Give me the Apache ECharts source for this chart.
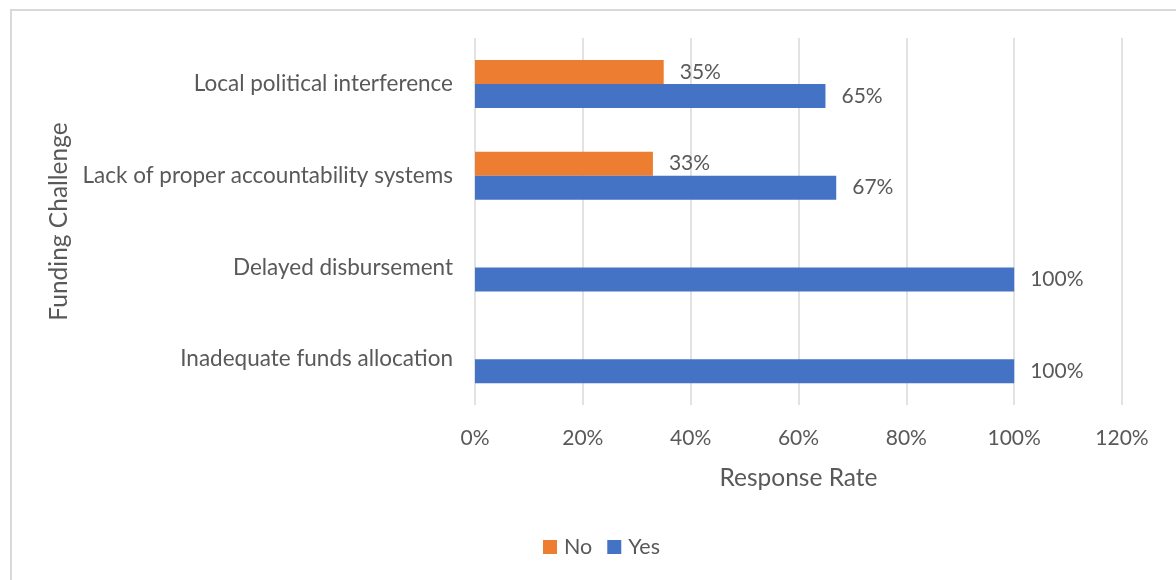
<!DOCTYPE html>
<html>
<head>
<meta charset="utf-8">
<script src="https://cdn.jsdelivr.net/npm/echarts@6/dist/echarts.min.js"></script>
<style>
  html, body { margin: 0; padding: 0; background: #ffffff; }
  #chart { width: 1176px; height: 580px; }
</style>
</head>
<body>
<div id="chart"></div>
<script>
// Funding challenges, listed bottom to top on the category axis
const categories = [
  'Inadequate funds allocation',
  'Delayed disbursement',
  'Lack of proper accountability systems',
  'Local political interference'
];
// Share of respondents answering "Yes" / "No" (fractions)
const yesValues = [1.00, 1.00, 0.67, 0.65];
const noValues = [null, null, 0.33, 0.35];
const xTicks = [0, 0.2, 0.4, 0.6, 0.8, 1.0, 1.2];

const FONT = 'Lato, "Open Sans", sans-serif';
const TEXT = '#595959';
const pct = v => Math.round(v * 100) + '%';

const chart = echarts.init(document.getElementById('chart'), null, { renderer: 'canvas' });

chart.setOption({
  backgroundColor: '#ffffff',
  animation: false,
  textStyle: { fontFamily: FONT, color: TEXT },
  graphic: [{
    type: 'rect',
    shape: { x: 11, y: 10, width: 1300, height: 700 },
    style: { fill: 'none', stroke: '#d9d9d9', lineWidth: 2 },
    silent: true,
    z: -10
  }],
  grid: { left: 475, right: 54, top: 38, bottom: 175, containLabel: false },
  legend: {
    data: ['No', 'Yes'],
    bottom: 17,
    left: 538,
    itemWidth: 14,
    itemHeight: 14,
    itemGap: 15,
    icon: 'rect',
    textStyle: { fontFamily: FONT, fontSize: 21.5, color: TEXT, padding: [0, 0, 0, 2] }
  },
  xAxis: {
    type: 'value',
    min: xTicks[0],
    max: xTicks[xTicks.length - 1],
    interval: 0.2,
    name: 'Response Rate',
    nameLocation: 'middle',
    nameGap: 61,
    nameTextStyle: { fontFamily: FONT, fontSize: 24.5, color: TEXT },
    axisLine: { show: false },
    axisTick: { show: false },
    axisLabel: { formatter: pct, fontFamily: FONT, fontSize: 21, color: TEXT, margin: 23 },
    splitLine: { show: true, lineStyle: { color: '#d9d9d9', width: 1.5 } }
  },
  yAxis: {
    type: 'category',
    data: categories,
    name: 'Funding Challenge',
    nameLocation: 'middle',
    nameGap: 401,
    nameRotate: 90,
    nameTextStyle: { fontFamily: FONT, fontSize: 24.5, color: TEXT },
    axisLine: { show: false },
    axisTick: { show: false },
    axisLabel: { fontFamily: FONT, fontSize: 22.5, color: TEXT, margin: 22, padding: [3, 0, 0, 0] },
    splitLine: { show: false }
  },
  series: [
    {
      name: 'No',
      type: 'bar',
      data: noValues,
      barWidth: 24,
      barGap: '0%',
      itemStyle: { color: '#ED7D31' },
      label: { show: true, position: 'right', distance: 16, padding: [3, 0, 0, 0], formatter: p => pct(p.value), fontFamily: FONT, fontSize: 21, color: TEXT }
    },
    {
      name: 'Yes',
      type: 'bar',
      data: yesValues,
      barWidth: 24,
      barGap: '0%',
      itemStyle: { color: '#4472C4' },
      label: { show: true, position: 'right', distance: 16, padding: [3, 0, 0, 0], formatter: p => pct(p.value), fontFamily: FONT, fontSize: 21, color: TEXT }
    }
  ]
});
</script>
</body>
</html>
